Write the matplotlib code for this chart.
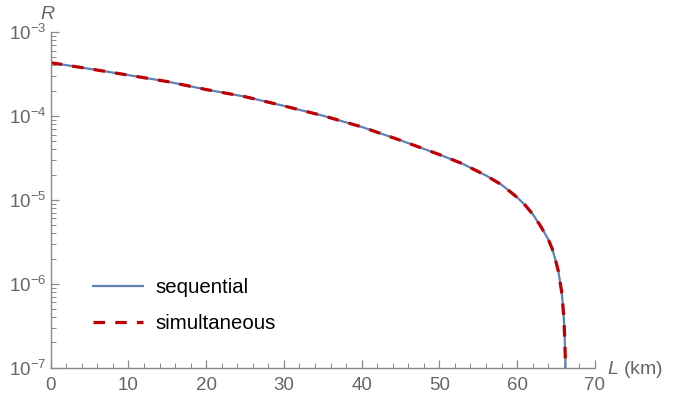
import numpy as np
import matplotlib
matplotlib.use("Agg")
import matplotlib.pyplot as plt
from matplotlib.ticker import LogLocator, MultipleLocator, NullFormatter, FixedLocator

plt.rcParams['font.family'] = ['Liberation Sans', 'DejaVu Sans']
plt.rcParams['mathtext.fontset'] = 'custom'
plt.rcParams['mathtext.rm'] = 'Liberation Sans'
plt.rcParams['mathtext.it'] = 'Liberation Sans:italic'

# data
L_km = [0, 5, 10, 15, 20, 25, 30, 35, 40, 45, 50, 53, 56, 58, 60, 61, 62, 63,
        64, 64.5, 65, 65.3, 65.7, 65.85, 66, 66.1, 66.2, 66.3]
log10_R = [-3.365, -3.438, -3.513, -3.59, -3.685, -3.77, -3.88, -3.996, -4.13,
           -4.29, -4.46, -4.57, -4.71, -4.82, -4.97, -5.06, -5.17, -5.31,
           -5.47, -5.58, -5.74, -5.85, -6.08, -6.22, -6.4, -6.6, -6.9, -7.2]
R_sequential = [10 ** v for v in log10_R]
R_simultaneous = [10 ** v for v in log10_R]
series_labels = ["sequential", "simultaneous"]
x_ticks = [0, 10, 20, 30, 40, 50, 60, 70]
y_ticks = [1e-7, 1e-6, 1e-5, 1e-4, 1e-3]
y_tick_labels = [r"$10^{-7}$", r"$10^{-6}$", r"$10^{-5}$", r"$10^{-4}$", r"$10^{-3}$"]

fig = plt.figure(figsize=(6.76, 3.96), dpi=100)
ax = fig.add_axes([0.075, 0.0715, 0.805, 0.8475])

ax.plot(L_km, R_sequential, color='#5E81B5', lw=1.6, label=series_labels[0])
ax.plot(L_km, R_simultaneous, color='#C00000', lw=2.3, ls=(0, (3.6, 3.2)),
        label=series_labels[1])

ax.set_yscale('log')
ax.set_xlim(0, 70)
ax.set_ylim(1e-7, 1e-3)

ax.set_xticks(x_ticks)
ax.xaxis.set_minor_locator(MultipleLocator(2))
ax.yaxis.set_major_locator(FixedLocator(y_ticks))
ax.set_yticklabels(y_tick_labels)
ax.yaxis.set_minor_locator(LogLocator(base=10, subs=np.arange(2, 10)))
ax.yaxis.set_minor_formatter(NullFormatter())

gray = '#8a8a8a'
for s in ['top', 'right']:
    ax.spines[s].set_visible(False)
for s in ['left', 'bottom']:
    ax.spines[s].set_color(gray)
    ax.spines[s].set_linewidth(1.0)
ax.tick_params(which='both', direction='in', color=gray, labelcolor='#666666',
               labelsize=13.5)
ax.tick_params(which='major', length=6, width=0.9)
ax.tick_params(which='minor', length=3.5, width=0.7)
ax.tick_params(axis='x', pad=7)
ax.tick_params(axis='y', pad=3)

ax.annotate(r"$\it{R}$", xy=(0, 1), xycoords='axes fraction',
            xytext=(-2, 6.5), textcoords='offset points', ha='center',
            va='bottom', fontsize=14, color='#666666')
ax.annotate(r"$\it{L}$" + " (km)", xy=(1, 0), xycoords='axes fraction',
            xytext=(8.5, -1.5), textcoords='offset points', ha='left',
            va='center', fontsize=14, color='#666666')

leg = ax.legend(loc='upper left', bbox_to_anchor=(93 / 676, 118 / 396),
                bbox_transform=fig.transFigure, frameon=False,
                fontsize=14.7, handlelength=2.45, handletextpad=0.6,
                labelspacing=0.85, borderpad=0, borderaxespad=0)

fig.savefig('out.png', dpi=100)
